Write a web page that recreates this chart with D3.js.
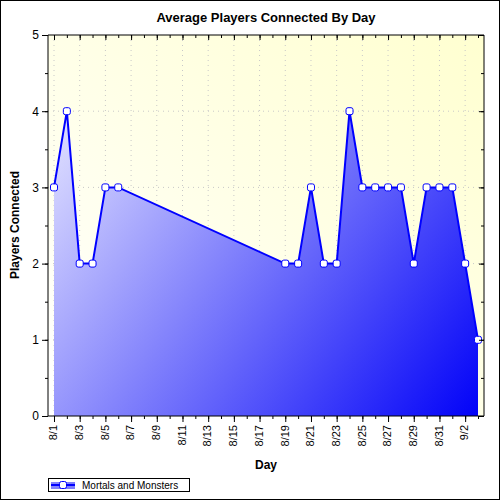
<!DOCTYPE html>
<html><head><meta charset="utf-8">
<script src="https://cdn.jsdelivr.net/npm/d3@7"></script>
<style>body{margin:0}svg{font-family:Arial,"Liberation Sans",sans-serif}</style>
</head><body><svg width="500" height="500"></svg>
<script>
// Day offsets from 8/1 and average players
const days = [0,1,2,3,4,5,18,19,20,21,22,23,24,25,26,27,28,29,30,31,32,33];
const players = [3,4,2,2,3,3,2,2,3,2,2,4,3,3,3,3,2,3,3,3,2,1];
const tickLabels = ["8/1","8/3","8/5","8/7","8/9","8/11","8/13","8/15","8/17","8/19","8/21","8/23","8/25","8/27","8/29","8/31","9/2"];
const seriesName = "Mortals and Monsters";

const svg = d3.select("svg");
const L = 48, R = 484, T = 35, B = 416;
const x = d3.scaleLinear().domain([0, 33]).range([54, 478]);
const y = d3.scaleLinear().domain([0, 5]).range([B, T]);

svg.append("rect").attr("x", 0.5).attr("y", 0.5).attr("width", 499).attr("height", 499)
    .attr("fill", "#fff").attr("stroke", "#000");

const defs = svg.append("defs");
const bg = defs.append("linearGradient").attr("id", "bg").attr("x1", 0).attr("y1", 1).attr("x2", 1).attr("y2", 0);
bg.append("stop").attr("offset", 0).attr("stop-color", "#ffffff");
bg.append("stop").attr("offset", 1).attr("stop-color", "#ffffd0");
const ag = defs.append("linearGradient").attr("id", "ag").attr("gradientUnits", "userSpaceOnUse")
    .attr("x1", L).attr("y1", 100).attr("x2", R).attr("y2", B);
ag.append("stop").attr("offset", 0).attr("stop-color", "#e8e8ff");
ag.append("stop").attr("offset", 1).attr("stop-color", "#0000f8");

svg.append("rect").attr("x", L).attr("y", T).attr("width", R - L).attr("height", B - T).attr("fill", "url(#bg)");

// grid
const grid = svg.append("g").attr("stroke", "#c8c8c8").attr("stroke-dasharray", "1,4");
d3.range(0, 33, 2).forEach(d => grid.append("line").attr("x1", x(d)).attr("x2", x(d)).attr("y1", T).attr("y2", B));
d3.range(1, 5).forEach(v => grid.append("line").attr("x1", L).attr("x2", R).attr("y1", y(v)).attr("y2", y(v)));

const pts = days.map((d, i) => [x(d), y(players[i])]);
svg.append("path").datum(pts)
    .attr("d", d3.area().x(p => p[0]).y0(B).y1(p => p[1]))
    .attr("fill", "url(#ag)");
svg.append("path").datum(pts).attr("d", d3.line()).attr("fill", "none").attr("stroke", "#0000ff").attr("stroke-width", 2);
svg.selectAll(".pt").data(pts).enter().append("rect")
    .attr("x", p => p[0] - 3.5).attr("y", p => p[1] - 3.5).attr("width", 7).attr("height", 7).attr("rx", 2)
    .attr("fill", "#fff").attr("stroke", "#0000ff").attr("stroke-width", 1);

// axes
const ax = svg.append("g").attr("transform", `translate(0,${B})`)
    .call(d3.axisBottom(x).tickValues(d3.range(0, 33, 2)).tickSize(6).tickFormat((d, i) => tickLabels[i]));
ax.select(".domain").attr("d", `M${L},0H${R}`);
ax.selectAll("text").attr("transform", "rotate(-90)").attr("x", -9).attr("y", -5)
    .attr("text-anchor", "end").attr("font-size", 11).attr("fill", "#000");
svg.append("g").attr("transform", `translate(0,${B})`).call(d3.axisBottom(x).ticks(33).tickSize(3).tickFormat(""))
    .select(".domain").remove();
const ay = svg.append("g").attr("transform", `translate(${L},0)`).call(d3.axisLeft(y).ticks(5).tickSize(6));
ay.selectAll("text").attr("font-size", 12).attr("fill", "#000");
ay.select(".domain").attr("d", `M0,${T}V${B}`);
svg.append("g").attr("transform", `translate(${L},0)`).call(d3.axisLeft(y).ticks(10).tickSize(3).tickFormat("")).select(".domain").remove();
// top and right frame ticks
const at = svg.append("g").attr("transform", `translate(0,${T})`).call(d3.axisBottom(x).tickValues(d3.range(0, 33, 2)).tickSize(5).tickFormat(""));
at.select(".domain").attr("d", `M${L},0H${R}`);
svg.append("g").attr("transform", `translate(0,${T})`).call(d3.axisBottom(x).ticks(33).tickSize(3).tickFormat("")).select(".domain").remove();
const ar = svg.append("g").attr("transform", `translate(${R},0)`).call(d3.axisLeft(y).ticks(5).tickSize(5).tickFormat(""));
ar.select(".domain").attr("d", `M0,${T}V${B}`);
svg.append("g").attr("transform", `translate(${R},0)`).call(d3.axisLeft(y).ticks(10).tickSize(3).tickFormat("")).select(".domain").remove();

svg.append("text").attr("x", 266).attr("y", 22).attr("text-anchor", "middle").attr("font-size", 13).attr("font-weight", "bold").text("Average Players Connected By Day");
svg.append("text").attr("x", 266).attr("y", 469).attr("text-anchor", "middle").attr("font-size", 12).attr("font-weight", "bold").text("Day");
svg.append("text").attr("transform", "translate(19,225) rotate(-90)").attr("text-anchor", "middle").attr("font-size", 12).attr("font-weight", "bold").text("Players Connected");

// legend
const lg = svg.append("g");
lg.append("rect").attr("x", 48.5).attr("y", 478.5).attr("width", 141).attr("height", 13).attr("fill", "#fff").attr("stroke", "#000");
lg.append("rect").attr("x", 51).attr("y", 482).attr("width", 24).attr("height", 7).attr("fill", "url(#ag)");
lg.append("line").attr("x1", 51).attr("x2", 75).attr("y1", 485).attr("y2", 485).attr("stroke", "#0000ff").attr("stroke-width", 2);
lg.append("rect").attr("x", 59.5).attr("y", 481.5).attr("width", 7).attr("height", 7).attr("rx", 2).attr("fill", "#fff").attr("stroke", "#0000ff");
lg.append("text").attr("x", 82).attr("y", 489).attr("font-size", 10).text(seriesName);
</script></body></html>
